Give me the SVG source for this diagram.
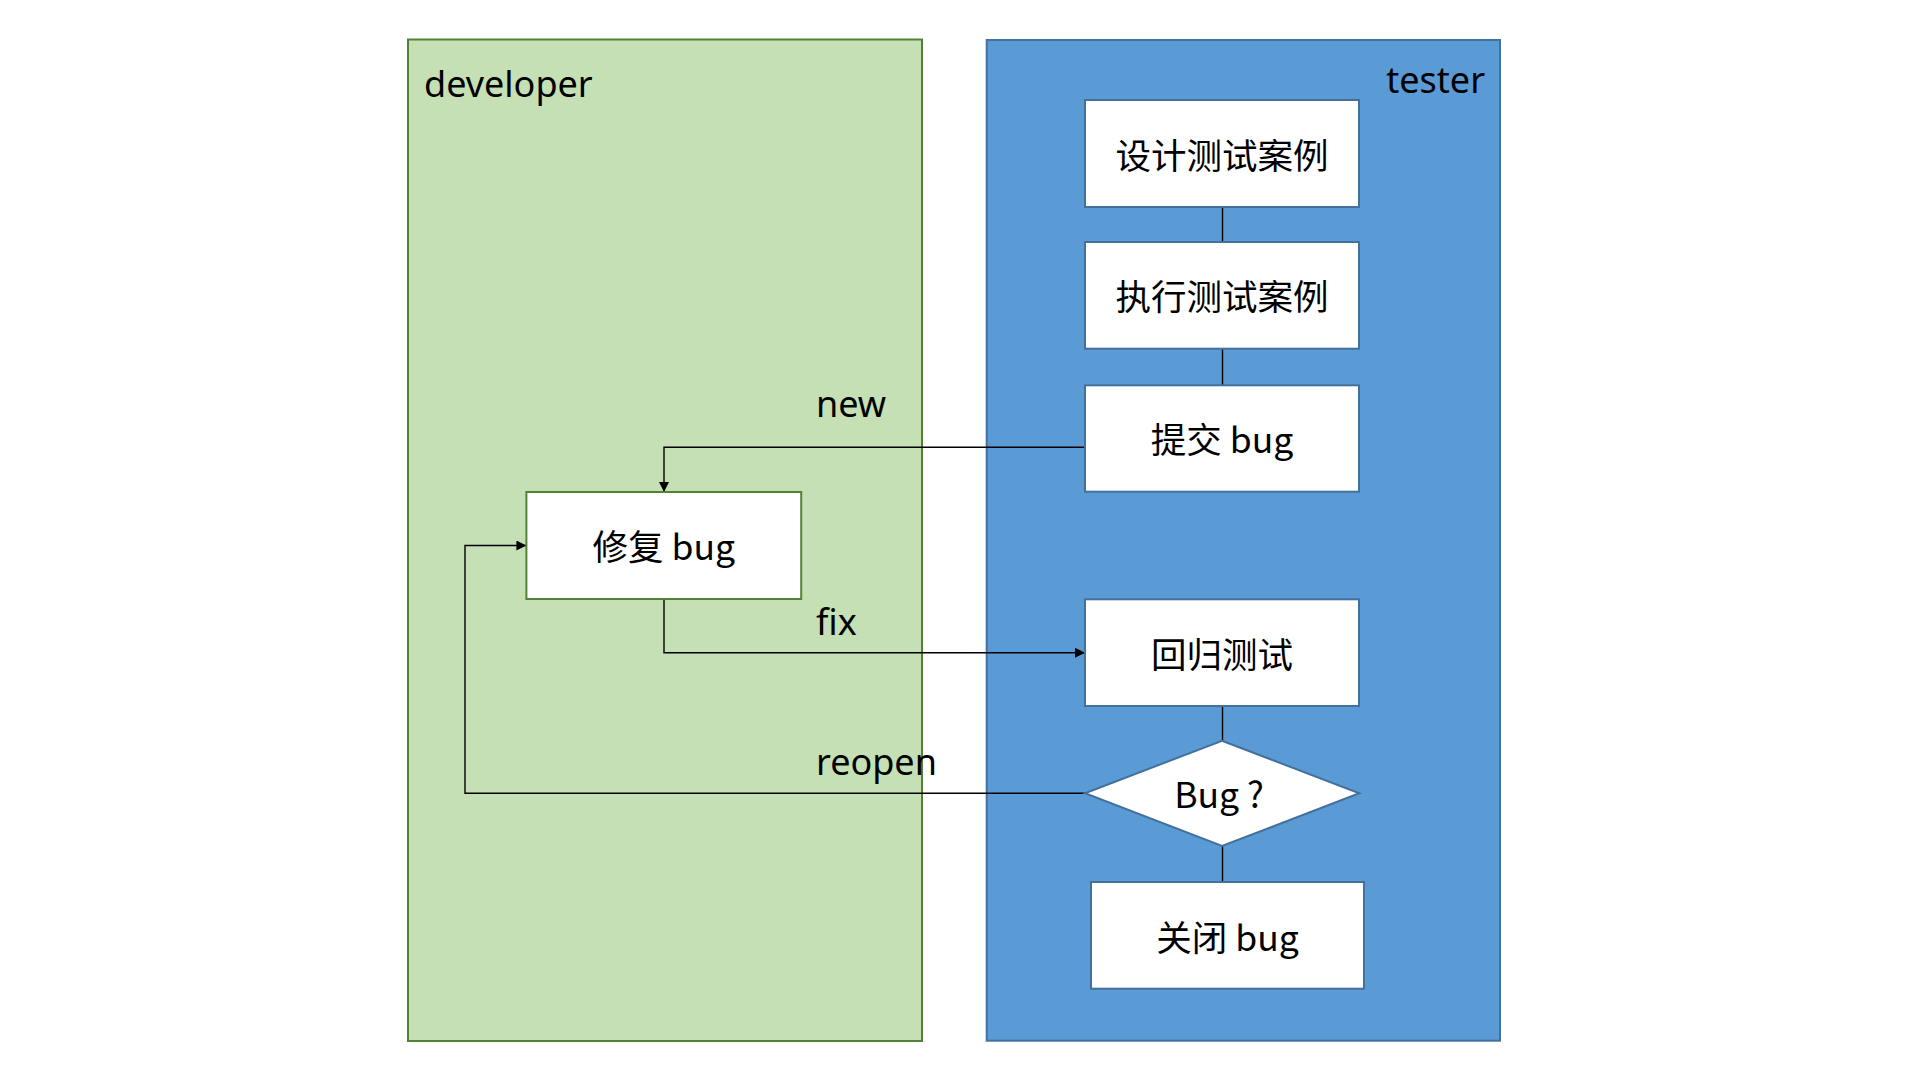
<svg xmlns="http://www.w3.org/2000/svg" width="1920" height="1080" viewBox="0 0 1920 1080">
  <style>
    .lane-dev { fill: #C5E0B4; stroke: #548235; stroke-width: 2; }
    .lane-test { fill: #5B9BD5; stroke: #41719C; stroke-width: 2; }
    .box-t { fill: #FFFFFF; stroke: #41719C; stroke-width: 2; }
    .box-d { fill: #FFFFFF; stroke: #548235; stroke-width: 2; }
    .lane-title { font-family: "Noto Sans", "Noto Sans CJK SC", sans-serif; font-size: 36px; fill: #000000; }
    .label { font-family: "Noto Sans", "Noto Sans CJK SC", sans-serif; font-size: 36px; fill: #000000; }
    .node-text { font-family: "Noto Sans CJK SC", "Noto Sans", sans-serif; font-size: 35.5px; fill: #000000; text-anchor: middle; }
    .conn { fill: none; stroke: #000000; stroke-width: 1.4; }
  </style>
  <defs>
    <marker id="arrow" viewBox="0 0 10 10" refX="10" refY="5" markerWidth="11" markerHeight="10" markerUnits="userSpaceOnUse" orient="auto">
      <path d="M0,0 L10,5 L0,10 z" fill="#000000"/>
    </marker>
  </defs>

  <rect width="1920" height="1080" fill="#FFFFFF"/>

  <g id="lane-developer">
    <rect class="lane-dev" x="408" y="39.5" width="514" height="1001.5"/>
    <text class="lane-title" x="424" y="97">developer</text>
  </g>
  <g id="lane-tester">
    <rect class="lane-test" x="986.7" y="40" width="513.3" height="1000.7"/>
    <text class="lane-title" x="1485" y="93" text-anchor="end">tester</text>
  </g>

  <g id="connectors">
    <line class="conn" x1="1222.5" y1="207" x2="1222.5" y2="242"/>
    <line class="conn" x1="1222.5" y1="348.7" x2="1222.5" y2="385.3"/>
    <line class="conn" x1="1222.5" y1="706" x2="1222.5" y2="740.7"/>
    <line class="conn" x1="1222.5" y1="846" x2="1222.5" y2="882"/>
    <path class="conn" d="M1085,447.3 H664 V492" marker-end="url(#arrow)"/>
    <path class="conn" d="M664,599 V652.7 H1085" marker-end="url(#arrow)"/>
    <path class="conn" d="M1085,793.3 H465 V545.5 H526.4" marker-end="url(#arrow)"/>
    <text class="label" x="816" y="417">new</text>
    <text class="label" x="816" y="635">fix</text>
    <text class="label" x="816" y="775">reopen</text>
  </g>

  <g id="node-design">
    <rect class="box-t" x="1085" y="100" width="274" height="107"/>
    <text class="node-text" x="1222" y="168.5">设计测试案例</text>
  </g>
  <g id="node-execute">
    <rect class="box-t" x="1085" y="242" width="274" height="106.7"/>
    <text class="node-text" x="1222" y="310">执行测试案例</text>
  </g>
  <g id="node-submit">
    <rect class="box-t" x="1085" y="385.3" width="274" height="106.4"/>
    <text class="node-text" x="1222" y="453">提交 bug</text>
  </g>
  <g id="node-fix">
    <rect class="box-d" x="526.4" y="492" width="274.8" height="107"/>
    <text class="node-text" x="663.8" y="560">修复 bug</text>
  </g>
  <g id="node-regression">
    <rect class="box-t" x="1085" y="599.3" width="274" height="106.7"/>
    <text class="node-text" x="1222" y="668">回归测试</text>
  </g>
  <g id="node-decision">
    <polygon class="box-t" points="1222,740.7 1359.3,793.3 1222,846 1085,793.3"/>
    <text class="node-text" x="1219" y="808">Bug ?</text>
  </g>
  <g id="node-close">
    <rect class="box-t" x="1091" y="882" width="273" height="106.7"/>
    <text class="node-text" x="1227.5" y="951">关闭 bug</text>
  </g>
</svg>
